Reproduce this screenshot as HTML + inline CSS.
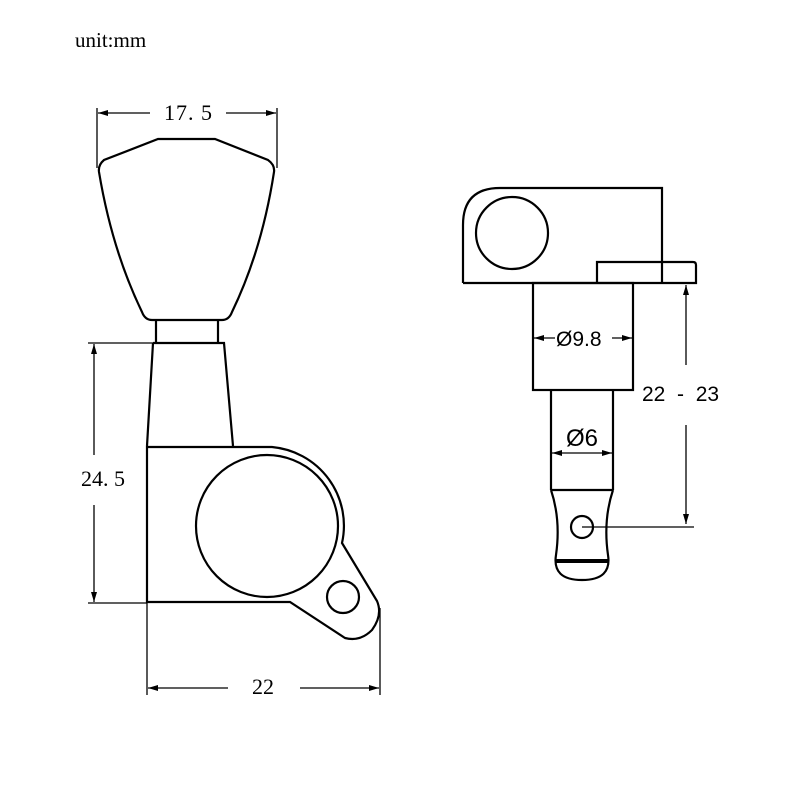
<!DOCTYPE html>
<html><head><meta charset="utf-8"><style>body{margin:0;background:#fff}</style></head><body>
<svg width="800" height="800" viewBox="0 0 800 800" xmlns="http://www.w3.org/2000/svg">
<defs>
<marker id="a" markerWidth="10" markerHeight="8" refX="10" refY="4" orient="auto" markerUnits="userSpaceOnUse"><path d="M0,1 L10,4 L0,7 Z" fill="#000"/></marker>
</defs>
<rect width="800" height="800" fill="#fff"/>
<text x="75" y="47" font-family="Liberation Serif, serif" font-size="21">unit:mm</text>
<g fill="none" stroke="#000" stroke-width="2.2">
<path d="M158,139 L215,139 L268,160 Q275,165 274,172 Q262,250 232,312 Q229,320 222,320 L152,320 Q145,320 142,312 Q112,250 99,172 Q98,165 104,160 Z"/>
<path d="M156,320 L156,343 M218,320 L218,343"/>
<path d="M153,343 L224,343 L233,446 M153,343 L147,446"/>
<path d="M147,447 L272,447 A79,79 0 0 1 342,543 L377,601 Q383,615 372,630 Q360,642 345,638 L290,602 L147,602 Z"/>
<circle cx="267" cy="526" r="71"/>
<circle cx="343" cy="597" r="16"/>
<path d="M463,283 L463,225 Q463,188 500,188 L662,188 L662,283"/>
<path d="M463,283 L696,283 L696,265 Q696,262 693,262 L597,262 L597,283"/>
<circle cx="512" cy="233" r="36"/>
<rect x="533" y="283" width="100" height="107"/>
<path d="M551,390 L551,490 M613,390 L613,490 M551,490 L613,490"/>
<path d="M551,490 Q561,520 556,555 Q552,580 582,580 Q612,580 608,555 Q603,520 613,490"/>
<circle cx="582" cy="527" r="11"/>
</g>
<path d="M556,561 L608,561" stroke="#000" stroke-width="4"/>
<g stroke="#000" stroke-width="1.3" fill="none">
<path d="M97,108 L97,168 M277,108 L277,168"/>
<path d="M150,113 L98,113" marker-end="url(#a)"/><path d="M226,113 L276,113" marker-end="url(#a)"/>
<path d="M88,343 L155,343 M88,603 L147,603"/>
<path d="M94,455 L94,344" marker-end="url(#a)"/><path d="M94,505 L94,602" marker-end="url(#a)"/>
<path d="M147,602 L147,695 M380,608 L380,695"/>
<path d="M228,688 L148,688" marker-end="url(#a)"/><path d="M300,688 L379,688" marker-end="url(#a)"/>
<path d="M555,338 L534,338" marker-end="url(#a)"/><path d="M612,338 L632,338" marker-end="url(#a)"/>
<path d="M582,453 L552,453" marker-end="url(#a)"/><path d="M582,453 L612,453" marker-end="url(#a)"/>
<path d="M686,365 L686,285" marker-end="url(#a)"/><path d="M686,425 L686,524" marker-end="url(#a)"/>
<path d="M582,527 L694,527"/>
</g>
<g font-family="Liberation Serif, serif" font-size="22" fill="#000">
<text x="164" y="120" letter-spacing="1">17. 5</text>
<text x="81" y="486" letter-spacing="0">24. 5</text>
<text x="252" y="694">22</text>
<text x="642" y="401" font-family="Liberation Sans, sans-serif" font-size="21" xml:space="preserve">22  -  23</text>
</g>
<g font-family="Liberation Sans, sans-serif" fill="#000">
<text x="556" y="346" font-size="21">Ø9.8</text>
<text x="566" y="446" font-size="24">Ø6</text>
</g>
</svg>
</body></html>
